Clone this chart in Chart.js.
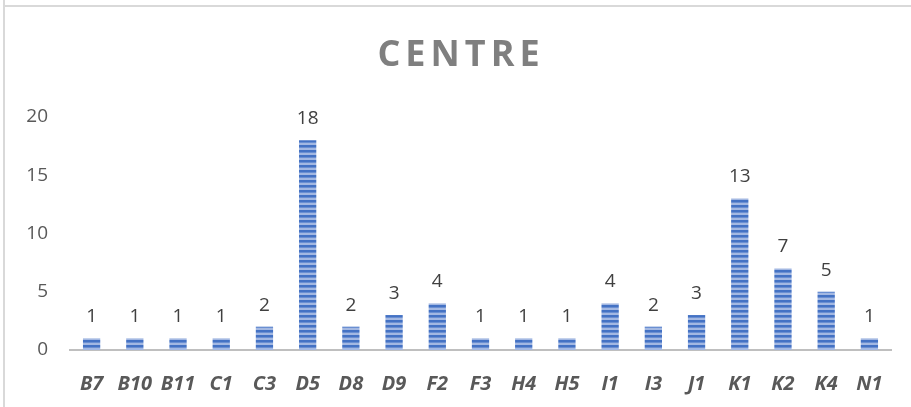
<!DOCTYPE html>
<html>
<head>
<meta charset="utf-8">
<script src="https://cdn.jsdelivr.net/npm/chart.js@4"></script>
<style>
  html, body { margin: 0; padding: 0; background: #fff; }
  #wrap { position: absolute; left: 0; top: 0; width: 911px; height: 407px; }
  #frame { position: absolute; left: 3px; top: 5px; width: 908px; height: 402px;
           border-left: 2px solid #d9d9d9; border-top: 2px solid #d9d9d9; }
  #edge { position: absolute; left: 3px; top: 0; width: 2px; height: 6px; background: #d9d9d9; }
  canvas { position: absolute; left: 0; top: 0; }
</style>
</head>
<body>
<div id="wrap">
  <div id="frame"></div>
  <div id="edge"></div>
  <canvas id="chart" width="911" height="407"></canvas>
</div>
<script>
const categories = ["B7", "B10", "B11", "C1", "C3", "D5", "D8", "D9", "F2", "F3", "H4", "H5", "I1", "I3", "J1", "K1", "K2", "K4", "N1"];
const counts = [1, 1, 1, 1, 2, 18, 2, 3, 4, 1, 1, 1, 4, 2, 3, 13, 7, 5, 1];
const yTicks = [0, 5, 10, 15, 20];
const chartTitle = "CENTRE";

// horizontal stripe fill like the Excel pattern
function stripePattern() {
    const c = document.createElement("canvas");
    c.width = 4; c.height = 5;
    const g = c.getContext("2d");
    g.fillStyle = "#a3b8e2";
    g.fillRect(0, 0, 4, 5);
    g.fillStyle = "#4472c4";
    g.fillRect(0, 0, 4, 2);
    g.fillStyle = "#6a8fd2";
    g.fillRect(0, 2, 4, 1);
    return g.createPattern(c, "repeat");
}

const ctx = document.getElementById("chart").getContext("2d");

const titlePlugin = {
    id: "spacedTitle",
    afterDraw(chart) {
        const c = chart.ctx;
        c.save();
        c.font = "bold 36px 'Open Sans'";
        c.fillStyle = "#7f7f7f";
        c.textAlign = "center";
        c.textBaseline = "middle";
        c.letterSpacing = "5px";
        c.fillText(chartTitle, 461, 56);
        c.restore();
    }
};

const valueLabels = {
    id: "valueLabels",
    afterDatasetsDraw(chart) {
        const c = chart.ctx;
        const meta = chart.getDatasetMeta(0);
        c.save();
        c.font = "19px 'Open Sans'";
        c.fillStyle = "#404040";
        c.textAlign = "center";
        c.textBaseline = "bottom";
        meta.data.forEach((bar, i) => {
            c.fillText(String(counts[i]), bar.x, bar.y - 12);
        });
        c.restore();
    }
};

new Chart(ctx, {
    type: "bar",
    data: {
        labels: categories,
        datasets: [{
            data: counts,
            backgroundColor: stripePattern(),
            borderWidth: 0,
            categoryPercentage: 1,
            barPercentage: 0.4
        }]
    },
    options: {
        responsive: false,
        animation: false,
        layout: { padding: { top: 117, right: 20, left: 0, bottom: 0 } },
        plugins: {
            legend: { display: false },
            title: { display: false },
            tooltip: { enabled: false }
        },
        scales: {
            x: {
                grid: { display: false, drawTicks: false },
                border: { display: true, color: "#bfbfbf", width: 2 },
                ticks: {
                    color: "#595959",
                    font: { family: "'Open Sans'", size: 20, weight: "bold", style: "italic" },
                    padding: 22,
                    maxRotation: 0,
                    autoSkip: false
                },
                afterFit: s => { s.height = 57; }
            },
            y: {
                min: 0,
                max: 20,
                afterBuildTicks: s => { s.ticks = yTicks.map(v => ({ value: v })); },
                grid: { display: false, drawTicks: false },
                border: { display: false },
                ticks: {
                    color: "#595959",
                    font: { family: "'Open Sans'", size: 19 },
                    padding: 22
                },
                afterFit: s => { s.width = 70; }
            }
        }
    },
    plugins: [valueLabels, titlePlugin]
});
</script>
</body>
</html>
